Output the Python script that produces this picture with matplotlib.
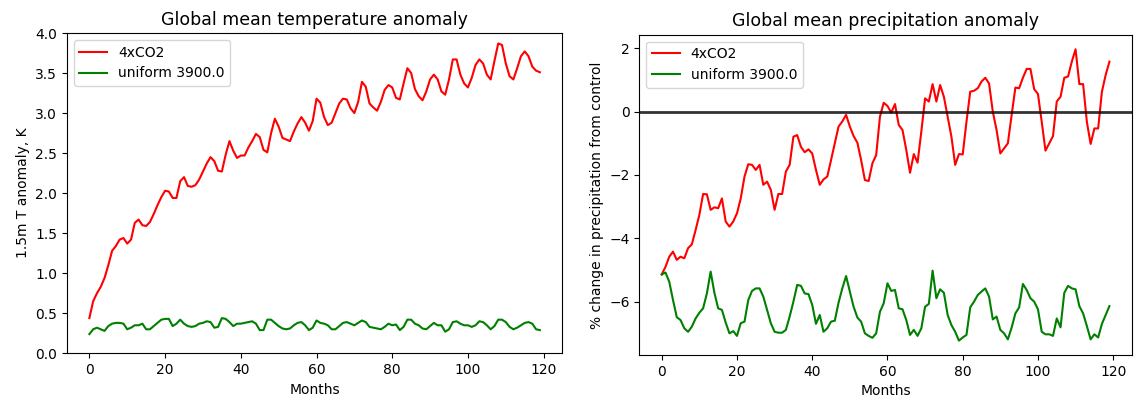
import numpy as np
import matplotlib
matplotlib.use("Agg")
import matplotlib.pyplot as plt

# Monthly global means, 10 years of a 4xCO2 run and a uniform 3900.0 ppm run
months = np.arange(120)

temp_4xco2 = [
    0.44, 0.65, 0.75, 0.83, 0.94, 1.10, 1.28, 1.34, 1.42, 1.44,
    1.37, 1.42, 1.63, 1.67, 1.60, 1.59, 1.64, 1.74, 1.85, 1.95,
    2.03, 2.02, 1.94, 1.94, 2.15, 2.20, 2.09, 2.08, 2.10, 2.17,
    2.27, 2.37, 2.45, 2.40, 2.28, 2.27, 2.48, 2.65, 2.53, 2.44,
    2.47, 2.47, 2.57, 2.65, 2.74, 2.70, 2.54, 2.51, 2.75, 2.93,
    2.83, 2.69, 2.67, 2.65, 2.77, 2.87, 2.95, 2.88, 2.78, 2.90,
    3.18, 3.13, 2.95, 2.85, 2.88, 3.00, 3.12, 3.18, 3.17, 3.06,
    3.00, 3.14, 3.39, 3.33, 3.12, 3.07, 3.03, 3.14, 3.29, 3.35,
    3.32, 3.19, 3.17, 3.37, 3.56, 3.50, 3.30, 3.21, 3.16, 3.27,
    3.42, 3.48, 3.42, 3.27, 3.23, 3.42, 3.67, 3.67, 3.48, 3.37,
    3.32, 3.44, 3.60, 3.67, 3.62, 3.48, 3.42, 3.65, 3.87, 3.85,
    3.62, 3.46, 3.42, 3.56, 3.71, 3.77, 3.71, 3.58, 3.53, 3.51,
]
temp_uniform = [
    0.24, 0.30, 0.32, 0.30, 0.28, 0.34, 0.37, 0.38, 0.38, 0.37,
    0.30, 0.32, 0.35, 0.35, 0.37, 0.30, 0.30, 0.34, 0.38, 0.42,
    0.43, 0.43, 0.34, 0.37, 0.42, 0.37, 0.34, 0.33, 0.34, 0.37,
    0.38, 0.40, 0.39, 0.32, 0.33, 0.44, 0.43, 0.39, 0.34, 0.37,
    0.37, 0.38, 0.39, 0.40, 0.37, 0.29, 0.29, 0.42, 0.42, 0.38,
    0.34, 0.31, 0.30, 0.31, 0.35, 0.38, 0.39, 0.35, 0.29, 0.32,
    0.41, 0.38, 0.37, 0.35, 0.30, 0.30, 0.34, 0.38, 0.39, 0.37,
    0.35, 0.38, 0.41, 0.39, 0.33, 0.32, 0.31, 0.30, 0.33, 0.37,
    0.35, 0.36, 0.29, 0.33, 0.42, 0.42, 0.37, 0.35, 0.31, 0.30,
    0.34, 0.38, 0.35, 0.35, 0.27, 0.30, 0.39, 0.40, 0.37, 0.35,
    0.35, 0.33, 0.35, 0.40, 0.39, 0.35, 0.30, 0.34, 0.42, 0.42,
    0.39, 0.33, 0.30, 0.32, 0.35, 0.38, 0.39, 0.37, 0.30, 0.29,
]

precip_4xco2 = [
    -5.14, -4.90, -4.58, -4.42, -4.68, -4.58, -4.63, -4.31, -4.19, -3.74,
    -3.26, -2.60, -2.61, -3.10, -3.02, -3.05, -2.74, -3.47, -3.63, -3.47,
    -3.21, -2.74, -2.05, -1.66, -1.68, -1.84, -1.68, -2.31, -2.21, -2.47,
    -3.10, -2.60, -2.60, -1.89, -1.68, -0.79, -0.74, -1.11, -1.28, -1.19,
    -1.32, -1.84, -2.31, -2.14, -2.05, -1.53, -1.00, -0.47, -0.31, -0.10,
    -0.47, -0.77, -0.98, -1.53, -2.16, -2.19, -1.63, -1.37, -0.16, 0.28,
    0.18, -0.03, 0.24, -0.42, -0.58, -1.21, -1.93, -1.34, -1.61, -0.63,
    0.42, 0.32, 0.87, 0.32, 0.84, 0.47, -0.16, -0.79, -1.68, -1.34,
    -1.35, -0.32, 0.63, 0.66, 0.74, 0.95, 1.07, 0.89, 0.00, -0.58,
    -1.32, -1.16, -1.00, -0.11, 0.76, 0.74, 1.07, 1.35, 1.35, 0.71,
    0.56, -0.32, -1.23, -1.00, -0.77, 0.32, 0.47, 1.07, 1.11, 1.58,
    1.97, 0.87, 0.87, -0.32, -1.02, -0.53, -0.53, 0.63, 1.16, 1.58,
]
precip_uniform = [
    -5.14, -5.08, -5.37, -5.95, -6.49, -6.58, -6.84, -6.95, -6.79, -6.53,
    -6.35, -6.21, -5.74, -5.05, -5.72, -6.21, -6.26, -6.66, -7.00, -6.93,
    -7.08, -6.68, -6.63, -5.95, -5.66, -5.58, -5.58, -5.84, -6.26, -6.68,
    -6.95, -6.98, -6.98, -6.89, -6.47, -6.00, -5.47, -5.50, -5.74, -5.76,
    -6.10, -6.70, -6.42, -6.95, -6.84, -6.63, -6.60, -6.03, -5.58, -5.19,
    -5.68, -6.16, -6.50, -6.63, -7.00, -7.08, -7.14, -7.00, -6.32, -6.05,
    -5.42, -5.66, -5.63, -6.21, -6.24, -6.58, -7.05, -6.89, -7.08, -6.84,
    -6.16, -6.07, -5.02, -5.89, -5.61, -5.72, -6.42, -6.74, -6.95, -7.23,
    -7.13, -7.05, -6.18, -6.00, -5.79, -5.68, -5.58, -5.84, -6.56, -6.47,
    -6.89, -7.00, -7.19, -6.82, -6.37, -6.18, -5.44, -5.63, -5.89, -6.00,
    -6.24, -6.95, -7.03, -7.03, -7.08, -6.53, -6.81, -5.72, -5.50, -5.58,
    -5.61, -6.14, -6.37, -6.77, -7.19, -7.03, -7.13, -6.70, -6.42, -6.14,
]

fig = plt.figure(figsize=(11.35, 4.03), dpi=100)
ax1 = fig.add_axes([0.0589, 0.1233, 0.4366, 0.7948])
ax2 = fig.add_axes([0.5633, 0.1186, 0.4339, 0.7953])

# temperature
ax1.plot(months, temp_4xco2, color="r", label="4xCO2")
ax1.plot(months, temp_uniform, color="g", label="uniform 3900.0")
ax1.set_ylim(0, 4)
ax1.set_title("Global mean temperature anomaly", fontsize=12.5)
ax1.set_xlabel("Months")
ax1.set_ylabel("1.5m T anomaly, K")
ax1.legend(loc="upper left")

# precipitation
ax2.plot(months, precip_4xco2, color="r", label="4xCO2")
ax2.plot(months, precip_uniform, color="g", label="uniform 3900.0")
ax2.axhline(0, color="k", alpha=0.8, linewidth=2)
ax2.set_title("Global mean precipitation anomaly", fontsize=12.5)
ax2.set_xlabel("Months")
ax2.set_ylabel("% change in precipitation from control")
ax2.legend(loc="upper left")

for ax in (ax1, ax2):
    ax.set_xticks([0, 20, 40, 60, 80, 100, 120])

fig.savefig("out.png", dpi=100)
